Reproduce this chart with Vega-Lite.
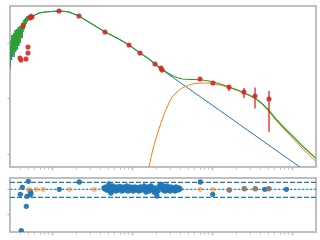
{
  "$schema": "https://vega.github.io/schema/vega-lite/v6.json",
  "padding": {"left": 5, "top": 5, "right": 0, "bottom": 0},
  "background": "white",
  "spacing": 11,
  "bounds": "flush",
  "config": {
    "view": {"stroke": "#bfbfbf", "strokeWidth": 2},
    "axis": {"labels": false, "title": null, "domain": false, "grid": false, "tickColor": "#bdbdbd",
      "tickSize": {"condition": {"test": "abs(datum.value - round(datum.value)) < 0.001", "value": 3}, "value": 2},
      "tickWidth": {"condition": {"test": "abs(datum.value - round(datum.value)) < 0.001", "value": 1.5}, "value": 1}}
  },
  "datasets": {
    "stellar": [
      {"lx": -1.525, "ly": 3.022}, {"lx": -1.52, "ly": 3.921}, {"lx": -1.515, "ly": 3.381}, {"lx": -1.51, "ly": 4.101}, {"lx": -1.505, "ly": 3.381}, {"lx": -1.5, "ly": 4.281}, {"lx": -1.495, "ly": 3.489}, {"lx": -1.49, "ly": 4.173}, {"lx": -1.485, "ly": 3.741}, {"lx": -1.48, "ly": 4.353}, {"lx": -1.475, "ly": 3.489}, {"lx": -1.47, "ly": 4.245}, {"lx": -1.465, "ly": 3.813}, {"lx": -1.46, "ly": 4.46}, {"lx": -1.455, "ly": 3.669}, {"lx": -1.45, "ly": 4.317}, {"lx": -1.445, "ly": 3.921}, {"lx": -1.44, "ly": 4.496}, {"lx": -1.435, "ly": 3.741}, {"lx": -1.43, "ly": 4.424}, {"lx": -1.425, "ly": 3.957}, {"lx": -1.42, "ly": 4.568}, {"lx": -1.415, "ly": 3.885}, {"lx": -1.41, "ly": 4.46}, {"lx": -1.405, "ly": 4.101}, {"lx": -1.4, "ly": 4.604}, {"lx": -1.395, "ly": 3.993}, {"lx": -1.39, "ly": 4.532}, {"lx": -1.385, "ly": 4.245}, {"lx": -1.38, "ly": 4.712}, {"lx": -1.375, "ly": 4.173}, {"lx": -1.37, "ly": 4.64}, {"lx": -1.365, "ly": 4.388}, {"lx": -1.36, "ly": 4.748}, {"lx": -1.355, "ly": 4.46}, {"lx": -1.35, "ly": 4.82}, {"lx": -1.345, "ly": 4.496}, {"lx": -1.34, "ly": 4.856}, {"lx": -1.335, "ly": 4.604}, {"lx": -1.33, "ly": 4.892}, {"lx": -1.325, "ly": 4.676}, {"lx": -1.32, "ly": 4.928}, {"lx": -1.315, "ly": 4.748}, {"lx": -1.31, "ly": 4.964}, {"lx": -1.305, "ly": 4.784}, {"lx": -1.3, "ly": 4.964}, {"lx": -1.29375, "ly": 4.856}, {"lx": -1.2875, "ly": 5.0}, {"lx": -1.28125, "ly": 4.892}, {"lx": -1.275, "ly": 5.0}, {"lx": -1.26875, "ly": 4.928}, {"lx": -1.2625, "ly": 5.0}, {"lx": -1.25625, "ly": 4.946}, {"lx": -1.25, "ly": 4.946},
      {"lx": -1.1625, "ly": 5.072}, {"lx": -1.0875, "ly": 5.108}, {"lx": -1.0, "ly": 5.126}, {"lx": -0.9125, "ly": 5.144}, {"lx": -0.8375, "ly": 5.126}, {"lx": -0.7875, "ly": 5.108}, {"lx": -0.725, "ly": 5.036}, {"lx": -0.6625, "ly": 4.964}, {"lx": -0.5, "ly": 4.676}, {"lx": -0.3375, "ly": 4.388}, {"lx": -0.1875, "ly": 4.173}, {"lx": -0.0375, "ly": 3.921}, {"lx": 0.1, "ly": 3.633}, {"lx": 0.2125, "ly": 3.417}, {"lx": 0.2875, "ly": 3.237}, {"lx": 0.375, "ly": 3.03}, {"lx": 2.325, "ly": -0.928}
    ],
    "dust": [
      {"lx": 0.175, "ly": -1.115}, {"lx": 0.2125, "ly": -0.468}, {"lx": 0.25, "ly": 0.036}, {"lx": 0.2875, "ly": 0.432}, {"lx": 0.325, "ly": 0.791}, {"lx": 0.375, "ly": 1.223}, {"lx": 0.4125, "ly": 1.511}, {"lx": 0.4625, "ly": 1.835}, {"lx": 0.5, "ly": 2.05}, {"lx": 0.5625, "ly": 2.23}, {"lx": 0.625, "ly": 2.374}, {"lx": 0.7125, "ly": 2.482}, {"lx": 0.7875, "ly": 2.536}, {"lx": 0.875, "ly": 2.554}, {"lx": 0.9625, "ly": 2.554}, {"lx": 1.0375, "ly": 2.518}, {"lx": 1.125, "ly": 2.464}, {"lx": 1.2125, "ly": 2.392}, {"lx": 1.3375, "ly": 2.266}, {"lx": 1.4625, "ly": 2.104}, {"lx": 1.5375, "ly": 1.996}, {"lx": 1.625, "ly": 1.799}, {"lx": 1.7125, "ly": 1.529}, {"lx": 1.7875, "ly": 1.259}, {"lx": 1.875, "ly": 0.971}, {"lx": 2.0, "ly": 0.594}, {"lx": 2.125, "ly": 0.216}, {"lx": 2.3, "ly": -0.27}
    ],
    "total": [
      {"lx": -1.525, "ly": 3.165}, {"lx": -1.52, "ly": 3.921}, {"lx": -1.515, "ly": 3.381}, {"lx": -1.51, "ly": 4.101}, {"lx": -1.505, "ly": 3.561}, {"lx": -1.5, "ly": 4.281}, {"lx": -1.495, "ly": 3.489}, {"lx": -1.49, "ly": 4.173}, {"lx": -1.485, "ly": 3.741}, {"lx": -1.48, "ly": 4.353}, {"lx": -1.475, "ly": 3.597}, {"lx": -1.47, "ly": 4.245}, {"lx": -1.465, "ly": 3.813}, {"lx": -1.46, "ly": 4.46}, {"lx": -1.455, "ly": 3.669}, {"lx": -1.45, "ly": 4.317}, {"lx": -1.445, "ly": 3.921}, {"lx": -1.44, "ly": 4.496}, {"lx": -1.435, "ly": 3.741}, {"lx": -1.43, "ly": 4.424}, {"lx": -1.425, "ly": 3.957}, {"lx": -1.42, "ly": 4.568}, {"lx": -1.415, "ly": 3.885}, {"lx": -1.41, "ly": 4.46}, {"lx": -1.405, "ly": 4.101}, {"lx": -1.4, "ly": 4.604}, {"lx": -1.395, "ly": 3.993}, {"lx": -1.39, "ly": 4.532}, {"lx": -1.385, "ly": 4.245}, {"lx": -1.38, "ly": 4.712}, {"lx": -1.375, "ly": 4.173}, {"lx": -1.37, "ly": 4.64}, {"lx": -1.365, "ly": 4.388}, {"lx": -1.36, "ly": 4.748}, {"lx": -1.355, "ly": 4.46}, {"lx": -1.35, "ly": 4.82}, {"lx": -1.345, "ly": 4.496}, {"lx": -1.34, "ly": 4.856}, {"lx": -1.335, "ly": 4.604}, {"lx": -1.33, "ly": 4.892}, {"lx": -1.325, "ly": 4.676}, {"lx": -1.32, "ly": 4.928}, {"lx": -1.315, "ly": 4.748}, {"lx": -1.31, "ly": 4.964}, {"lx": -1.305, "ly": 4.784}, {"lx": -1.3, "ly": 4.964}, {"lx": -1.29375, "ly": 4.856}, {"lx": -1.2875, "ly": 5.0}, {"lx": -1.28125, "ly": 4.892}, {"lx": -1.275, "ly": 5.0}, {"lx": -1.26875, "ly": 4.928}, {"lx": -1.2625, "ly": 5.0}, {"lx": -1.25625, "ly": 4.946}, {"lx": -1.25, "ly": 4.946},
      {"lx": -1.1625, "ly": 5.072}, {"lx": -1.0875, "ly": 5.108}, {"lx": -1.0, "ly": 5.126}, {"lx": -0.9125, "ly": 5.144}, {"lx": -0.8375, "ly": 5.126}, {"lx": -0.7875, "ly": 5.108}, {"lx": -0.725, "ly": 5.036}, {"lx": -0.6625, "ly": 4.964}, {"lx": -0.5, "ly": 4.676}, {"lx": -0.3375, "ly": 4.388}, {"lx": -0.1875, "ly": 4.173}, {"lx": -0.0375, "ly": 3.921}, {"lx": 0.1, "ly": 3.633}, {"lx": 0.2125, "ly": 3.417}, {"lx": 0.2875, "ly": 3.237}, {"lx": 0.375, "ly": 3.058}, {"lx": 0.4375, "ly": 2.932}, {"lx": 0.5, "ly": 2.824}, {"lx": 0.5625, "ly": 2.752}, {"lx": 0.625, "ly": 2.698}, {"lx": 0.7125, "ly": 2.68}, {"lx": 0.7875, "ly": 2.68}, {"lx": 0.875, "ly": 2.662}, {"lx": 0.9625, "ly": 2.626}, {"lx": 1.0375, "ly": 2.572}, {"lx": 1.125, "ly": 2.5}, {"lx": 1.2125, "ly": 2.41}, {"lx": 1.3375, "ly": 2.284}, {"lx": 1.4625, "ly": 2.122}, {"lx": 1.5375, "ly": 2.014}, {"lx": 1.625, "ly": 1.817}, {"lx": 1.7125, "ly": 1.565}, {"lx": 1.7875, "ly": 1.295}, {"lx": 1.875, "ly": 1.025}, {"lx": 2.0, "ly": 0.665}, {"lx": 2.125, "ly": 0.306}, {"lx": 2.3, "ly": -0.162}
    ],
    "photometry": [
      {"lx": -1.4, "ly": 3.453}, {"lx": -1.3875, "ly": 3.381}, {"lx": -1.325, "ly": 3.417}, {"lx": -1.3, "ly": 3.849}, {"lx": -1.3, "ly": 3.633}, {"lx": -1.3625, "ly": 4.604}, {"lx": -1.275, "ly": 4.892}, {"lx": -1.25, "ly": 4.928}, {"lx": -1.2625, "ly": 4.946}, {"lx": -0.9125, "ly": 5.144}, {"lx": -0.6625, "ly": 4.964}, {"lx": -0.3375, "ly": 4.388}, {"lx": -0.0375, "ly": 3.921}, {"lx": 0.1, "ly": 3.633}, {"lx": 0.2875, "ly": 3.237}, {"lx": 0.3625, "ly": 3.094}, {"lx": 0.375, "ly": 3.022}, {"lx": 0.85, "ly": 2.698}, {"lx": 1.0125, "ly": 2.554},
      {"lx": 1.2125, "ly": 2.41, "lo": 2.266, "hi": 2.482}, {"lx": 1.4, "ly": 2.23, "lo": 2.014, "hi": 2.374}, {"lx": 1.5375, "ly": 2.086, "lo": 1.64, "hi": 2.39}, {"lx": 1.7125, "ly": 1.978, "lo": 0.791, "hi": 2.266}
    ],
    "levels": [
      {"level": 0.289}, {"level": -0.331}
    ],
    "zero": [
      {"level": 0}
    ],
    "residuals": [
      {"lx": -1.296, "r": 0.331}, {"lx": -1.371, "r": 0.083}, {"lx": -1.396, "r": -0.207}, {"lx": -1.3125, "r": -0.289}, {"lx": -1.321, "r": -0.702}, {"lx": -1.384, "r": -1.711}, {"lx": -1.271, "r": -0.083}, {"lx": -1.2625, "r": -0.165}, {"lx": -1.271, "r": -0.223}, {"lx": -0.909, "r": 0}, {"lx": -0.659, "r": 0.302}, {"lx": -0.341, "r": 0.041}, {"lx": 0.854, "r": 0.302}, {"lx": 1.009, "r": -0.207}, {"lx": 1.216, "r": -0.029}, {"lx": 1.404, "r": 0.025}, {"lx": 1.541, "r": 0.025}, {"lx": 1.659, "r": 0}, {"lx": 1.709, "r": 0.025}, {"lx": 1.929, "r": 0},
      {"lx": -0.35, "r": 0.054}, {"lx": -0.3375, "r": 0.012}, {"lx": -0.325, "r": 0.095}, {"lx": -0.3125, "r": -0.029}, {"lx": -0.3, "r": 0.054}, {"lx": -0.2875, "r": 0.219}, {"lx": -0.28125, "r": -0.07}, {"lx": -0.275, "r": 0.095}, {"lx": -0.2625, "r": -0.153}, {"lx": -0.25, "r": 0.012}, {"lx": -0.2375, "r": 0.136}, {"lx": -0.225, "r": -0.029}, {"lx": -0.2125, "r": 0.054}, {"lx": -0.2, "r": -0.07}, {"lx": -0.1875, "r": 0.095}, {"lx": -0.175, "r": 0.012}, {"lx": -0.1625, "r": -0.029}, {"lx": -0.15, "r": 0.116}, {"lx": -0.1375, "r": 0.012}, {"lx": -0.125, "r": -0.07}, {"lx": -0.1125, "r": 0.054}, {"lx": -0.1, "r": 0.095}, {"lx": -0.0875, "r": -0.029}, {"lx": -0.075, "r": 0.012}, {"lx": -0.0625, "r": 0.136}, {"lx": -0.05, "r": -0.07}, {"lx": -0.0375, "r": 0.054}, {"lx": -0.025, "r": -0.029}, {"lx": -0.0125, "r": 0.095}, {"lx": 0, "r": 0.012}, {"lx": 0.0125, "r": -0.07}, {"lx": 0.025, "r": 0.054}, {"lx": 0.0375, "r": 0.095}, {"lx": 0.05, "r": -0.029}, {"lx": 0.0625, "r": 0.012}, {"lx": 0.075, "r": 0.054}, {"lx": 0.0875, "r": -0.07}, {"lx": 0.1, "r": 0.095}, {"lx": 0.1125, "r": 0.012}, {"lx": 0.125, "r": -0.029}, {"lx": 0.1375, "r": 0.054}, {"lx": 0.15, "r": 0.136}, {"lx": 0.1625, "r": -0.029}, {"lx": 0.175, "r": -0.112}, {"lx": 0.1875, "r": 0.054}, {"lx": 0.2, "r": 0.095}, {"lx": 0.2125, "r": -0.07}, {"lx": 0.225, "r": 0.012}, {"lx": 0.2375, "r": 0.136}, {"lx": 0.25, "r": 0.054}, {"lx": 0.2625, "r": -0.029}, {"lx": 0.275, "r": -0.112}, {"lx": 0.2875, "r": 0.054}, {"lx": 0.3, "r": -0.153}, {"lx": 0.3125, "r": -0.277}, {"lx": 0.325, "r": -0.07}, {"lx": 0.3375, "r": 0.095}, {"lx": 0.35, "r": 0.178}, {"lx": 0.3625, "r": 0.054}, {"lx": 0.375, "r": 0.198}, {"lx": 0.3875, "r": -0.029}, {"lx": 0.4, "r": 0.095}, {"lx": 0.4125, "r": -0.07}, {"lx": 0.425, "r": 0.012}, {"lx": 0.4375, "r": 0.136}, {"lx": 0.45, "r": -0.029}, {"lx": 0.4625, "r": 0.054}, {"lx": 0.475, "r": -0.07}, {"lx": 0.4875, "r": 0.095}, {"lx": 0.5, "r": 0.012}, {"lx": 0.5125, "r": -0.029}, {"lx": 0.525, "r": 0.054}, {"lx": 0.5375, "r": -0.07}, {"lx": 0.55, "r": 0.095}, {"lx": 0.5625, "r": 0.012}, {"lx": 0.575, "r": -0.029}, {"lx": 0.5875, "r": 0.054}, {"lx": 0.6, "r": 0.012}
    ],
    "residuals_model": [
      {"lx": -1.2875, "r": 0}, {"lx": -1.196, "r": 0}, {"lx": -1.109, "r": 0}, {"lx": -0.784, "r": 0}, {"lx": -0.471, "r": 0}, {"lx": 0.854, "r": 0}, {"lx": 1.009, "r": 0}, {"lx": 1.216, "r": -0.01}, {"lx": 1.404, "r": 0.025}, {"lx": 1.541, "r": 0.025}, {"lx": 1.709, "r": 0.025}
    ]
  },
  "vconcat": [
    {
      "width": 306,
      "height": 161,
      "encoding": {
        "x": {"field": "lx", "type": "quantitative", "scale": {"domain": [-1.525, 2.3], "nice": false, "zero": false},
          "axis": {"values": [-1.398, -1.301, -1.222, -1.155, -1.097, -1.046, -1, -0.699, -0.523, -0.398, -0.301, -0.222, -0.155, -0.097, -0.046, 0, 0.301, 0.477, 0.602, 0.699, 0.778, 0.845, 0.903, 0.954, 1, 1.301, 1.477, 1.602, 1.699, 1.778, 1.845, 1.903, 1.954, 2]}}
      },
      "layer": [
        {"data": {"name": "stellar"}, "mark": {"type": "line", "color": "#1f77b4", "strokeWidth": 1, "clip": true},
          "encoding": {"y": {"field": "ly", "type": "quantitative", "scale": {"domain": [-0.468, 5.324], "nice": false, "zero": false}, "axis": {"values": [0, 1, 2, 3, 4, 5]}}}},
        {"data": {"name": "dust"}, "mark": {"type": "line", "color": "#ff7f0e", "strokeWidth": 1, "clip": true},
          "encoding": {"y": {"field": "ly", "type": "quantitative"}}},
        {"data": {"name": "total"}, "mark": {"type": "line", "color": "#2ca02c", "strokeWidth": 1.2, "clip": true},
          "encoding": {"y": {"field": "ly", "type": "quantitative"}}},
        {"data": {"name": "photometry"}, "transform": [{"filter": "isValid(datum.lo)"}],
          "mark": {"type": "rule", "color": "#d62728", "strokeWidth": 1.3, "clip": true},
          "encoding": {"y": {"field": "lo", "type": "quantitative"}, "y2": {"field": "hi"}}},
        {"data": {"name": "photometry"}, "mark": {"type": "circle", "color": "#d62728", "size": 26, "opacity": 0.9, "clip": true},
          "encoding": {"y": {"field": "ly", "type": "quantitative"}}}
      ]
    },
    {
      "width": 306,
      "height": 54,
      "encoding": {
        "x": {"field": "lx", "type": "quantitative", "scale": {"domain": [-1.525, 2.3], "nice": false, "zero": false},
          "axis": {"values": [-1.398, -1.301, -1.222, -1.155, -1.097, -1.046, -1, -0.699, -0.523, -0.398, -0.301, -0.222, -0.155, -0.097, -0.046, 0, 0.301, 0.477, 0.602, 0.699, 0.778, 0.845, 0.903, 0.954, 1, 1.301, 1.477, 1.602, 1.699, 1.778, 1.845, 1.903, 1.954, 2]}}
      },
      "layer": [
        {"data": {"name": "zero"}, "mark": {"type": "rule", "color": "#1f77b4", "strokeWidth": 1, "opacity": 0.35},
          "encoding": {"x": null, "y": {"field": "level", "type": "quantitative", "scale": {"domain": [-1.764, 0.467], "nice": false, "zero": false}, "axis": {"values": [0, -1]}}}},
        {"data": {"name": "zero"}, "mark": {"type": "rule", "color": "#1f77b4", "strokeWidth": 1.2, "strokeDash": [1.5, 2.5]},
          "encoding": {"x": null, "y": {"field": "level", "type": "quantitative"}}},
        {"data": {"name": "levels"}, "mark": {"type": "rule", "color": "#1f77b4", "strokeWidth": 1.2, "strokeDash": [5, 2]},
          "encoding": {"x": null, "y": {"field": "level", "type": "quantitative"}}},
        {"data": {"name": "residuals"}, "mark": {"type": "circle", "color": "#1f77b4", "size": 28, "opacity": 0.95, "clip": true},
          "encoding": {"y": {"field": "r", "type": "quantitative"}}},
        {"data": {"name": "residuals_model"}, "mark": {"type": "circle", "color": "#ff7f0e", "size": 28, "opacity": 0.5, "clip": true},
          "encoding": {"y": {"field": "r", "type": "quantitative"}}}
      ]
    }
  ]
}
